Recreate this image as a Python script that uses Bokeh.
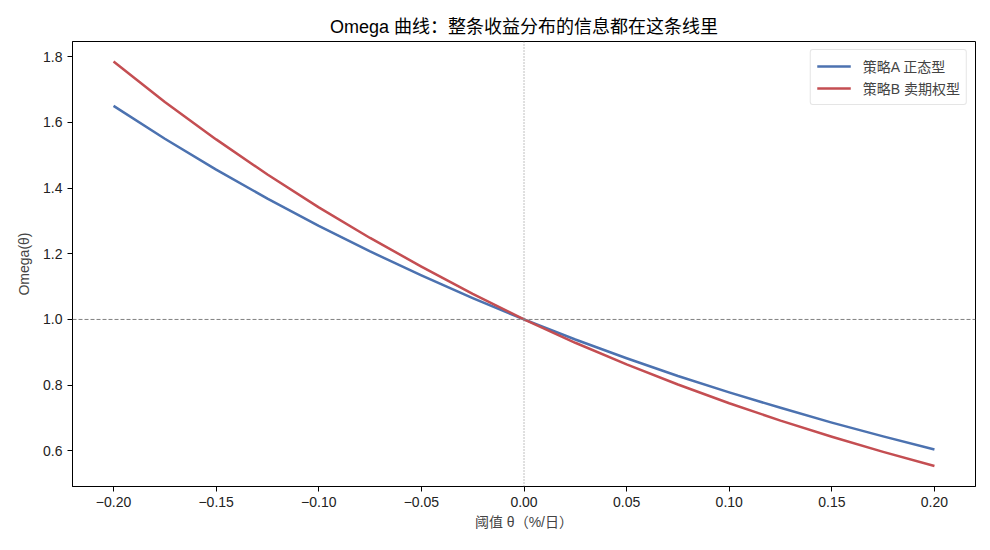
from bokeh.plotting import figure
from bokeh.models import Span, Range1d, FixedTicker, Legend, LegendItem
from bokeh.embed import file_html
from bokeh.resources import INLINE

theta = [-0.2, -0.175, -0.15, -0.125, -0.1, -0.075, -0.05, -0.025, 0.0,
         0.025, 0.05, 0.075, 0.1, 0.125, 0.15, 0.175, 0.2]
omega_a = [1.650, 1.550, 1.456, 1.368, 1.285, 1.207, 1.134, 1.065, 1.000,
           0.939, 0.882, 0.828, 0.778, 0.731, 0.686, 0.644, 0.604]
omega_b = [1.785, 1.662, 1.548, 1.441, 1.341, 1.248, 1.161, 1.078, 1.000,
           0.929, 0.863, 0.802, 0.745, 0.692, 0.643, 0.597, 0.554]
series_names = ["策略A 正态型", "策略B 卖期权型"]
x_ticks = [-0.2, -0.15, -0.1, -0.05, 0.0, 0.05, 0.1, 0.15, 0.2]
x_tick_labels = ["−0.20", "−0.15", "−0.10", "−0.05", "0.00", "0.05", "0.10", "0.15", "0.20"]
y_ticks = [0.6, 0.8, 1.0, 1.2, 1.4, 1.6, 1.8]
y_tick_labels = ["0.6", "0.8", "1.0", "1.2", "1.4", "1.6", "1.8"]

FONT = "Liberation Sans, Noto Sans CJK SC"

p = figure(width=990, height=550, output_backend="svg", toolbar_location=None,
           x_range=Range1d(-0.22, 0.22), y_range=Range1d(0.4915, 1.846),
           min_border_left=72, min_border_right=15, min_border_top=41, min_border_bottom=64,
           title="Omega 曲线：整条收益分布的信息都在这条线里")
p.title.text_font = FONT
p.title.text_font_size = "18px"
p.title.text_font_style = "normal"
p.title.align = "center"
p.title.text_color = "#000000"

p.xgrid.visible = False
p.ygrid.visible = False
p.outline_line_color = "black"
p.outline_line_width = 1

for ax in (p.xaxis[0], p.yaxis[0]):
    ax.major_label_text_font = FONT
    ax.major_label_text_font_size = "14px"
    ax.major_label_text_color = "#222222"
    ax.axis_label_text_font = FONT
    ax.axis_label_text_font_size = "14px"
    ax.axis_label_text_font_style = "normal"
    ax.minor_tick_line_color = None
    ax.major_tick_out = 5
    ax.major_tick_in = 0
    ax.axis_line_color = "black"

p.xaxis.ticker = FixedTicker(ticks=x_ticks)
p.xaxis.major_label_overrides = {t: l for t, l in zip(x_ticks, x_tick_labels)}
p.yaxis.ticker = FixedTicker(ticks=y_ticks)
p.yaxis.major_label_overrides = {t: l for t, l in zip(y_ticks, y_tick_labels)}
p.xaxis.axis_label = "阈值 θ（%/日）"
p.yaxis.axis_label = "Omega(θ)"
p.xaxis.axis_label_standoff = 4
p.yaxis.axis_label_standoff = 8

p.add_layout(Span(location=1.0, dimension="width", line_color="gray",
                  line_width=1, line_dash="4 2"))
p.add_layout(Span(location=0.0, dimension="height", line_color="gray",
                  line_width=1, line_dash="1 2"))

ra = p.line(theta, omega_a, line_color="#4C72B0", line_width=2.5, line_join="round")
rb = p.line(theta, omega_b, line_color="#C44E52", line_width=2.5, line_join="round")

legend = Legend(items=[LegendItem(label=series_names[0], renderers=[ra]),
                       LegendItem(label=series_names[1], renderers=[rb])],
                location="top_right")
legend.label_text_font = FONT
legend.label_text_font_size = "14px"
legend.glyph_width = 34
legend.label_standoff = 12
legend.spacing = 2
legend.padding = 6
legend.margin = 8
legend.border_line_color = "#cccccc"
legend.border_line_width = 1
legend.border_radius = 3
legend.background_fill_alpha = 0.9
p.add_layout(legend)

open("out.html", "w").write(file_html(p, INLINE))
